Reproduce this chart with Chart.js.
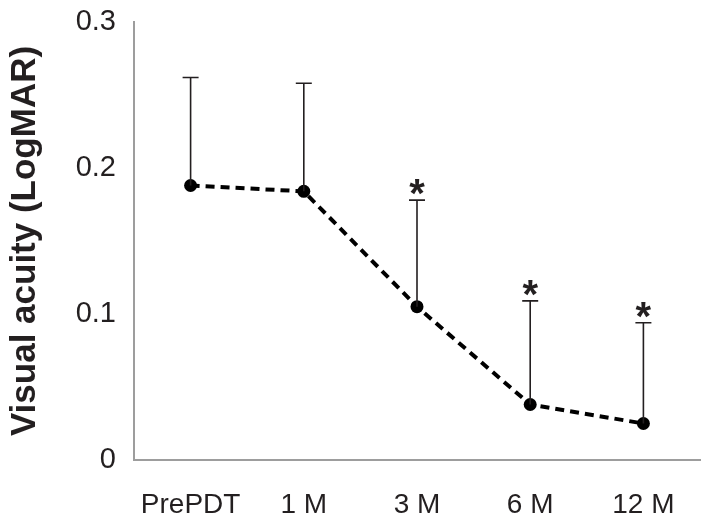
<!DOCTYPE html>
<html>
<head>
<meta charset="utf-8">
<script src="https://cdn.jsdelivr.net/npm/chart.js@4"></script>
<style>
  html, body { margin: 0; padding: 0; background: #fff; }
  #wrap { width: 709px; height: 526px; }
</style>
</head>
<body>
<div id="wrap"><canvas id="acuityChart" width="709" height="526"></canvas></div>
<script>
// data
const timepoints = ["PrePDT", "1 M", "3 M", "6 M", "12 M"];
const meanLogMAR = [0.188, 0.184, 0.105, 0.038, 0.025];
const sdLogMAR = [0.074, 0.074, 0.073, 0.071, 0.069];
const significant = [false, false, true, true, true];
const yTicks = [0, 0.1, 0.2, 0.3];

const FONT = "'Liberation Sans', Arial, sans-serif";

// draws the upward-only error bars and the * marks
const errorBars = {
    id: "errorBars",
    afterDatasetsDraw(chart) {
        const ctx = chart.ctx;
        const x = chart.scales.x;
        const y = chart.scales.y;
        ctx.save();
        ctx.strokeStyle = "#231f20";
        ctx.lineWidth = 1.6;
        meanLogMAR.forEach((v, i) => {
            const px = x.getPixelForValue(i);
            const y0 = y.getPixelForValue(v);
            const y1 = y.getPixelForValue(v + sdLogMAR[i]);
            ctx.beginPath();
            ctx.moveTo(px, y0);
            ctx.lineTo(px, y1);
            ctx.moveTo(px - 8, y1);
            ctx.lineTo(px + 8, y1);
            ctx.stroke();
            if (significant[i]) {
                ctx.fillStyle = "#231f20";
                ctx.font = "bold 40px " + FONT;
                ctx.textAlign = "center";
                ctx.textBaseline = "alphabetic";
                ctx.fillText("*", px, y1 + 7);
            }
        });
        ctx.restore();
    }
};

function initChart() {
    const ctx = document.getElementById("acuityChart").getContext("2d");
    new Chart(ctx, {
        type: "line",
        data: {
            labels: timepoints,
            datasets: [{
                data: meanLogMAR,
                borderColor: "#000",
                borderWidth: 4,
                borderDash: [9, 6],
                pointRadius: 6.5,
                pointBackgroundColor: "#000",
                pointBorderColor: "#000",
                pointBorderWidth: 0,
                tension: 0,
                fill: false
            }]
        },
        options: {
            responsive: false,
            animation: false,
            layout: { padding: { top: 22, right: 9, left: 0, bottom: 0 } },
            plugins: { legend: { display: false }, tooltip: { enabled: false } },
            scales: {
                x: {
                    offset: true,
                    grid: { display: false, drawTicks: false },
                    border: { color: "#9d9d9d", width: 2 },
                    ticks: {
                        color: "#231f20",
                        font: { family: FONT, size: 28 },
                        padding: 28
                    },
                    afterFit(scale) { scale.height = 66; }
                },
                y: {
                    min: 0,
                    max: 0.3,
                    afterBuildTicks(scale) {
                        scale.ticks = yTicks.map(v => ({ value: v }));
                    },
                    grid: { display: false, drawTicks: false },
                    border: { color: "#9d9d9d", width: 2 },
                    ticks: {
                        color: "#231f20",
                        font: { family: FONT, size: 29 },
                        padding: 18,
                        callback: v => v === 0 ? "0" : v.toFixed(1)
                    },
                    title: {
                        display: true,
                        text: "Visual acuity (LogMAR)",
                        color: "#231f20",
                        font: { family: FONT, size: 35, weight: "bold" },
                        padding: { top: 4, bottom: 0 }
                    },
                    afterFit(scale) {
                        scale.width = 134;
                        // let layout.padding alone set the plot top
                        scale.paddingTop = 0;
                        scale.paddingBottom = 0;
                    }
                }
            }
        },
        plugins: [errorBars]
    });
}

document.addEventListener("DOMContentLoaded", initChart);
</script>
</body>
</html>
